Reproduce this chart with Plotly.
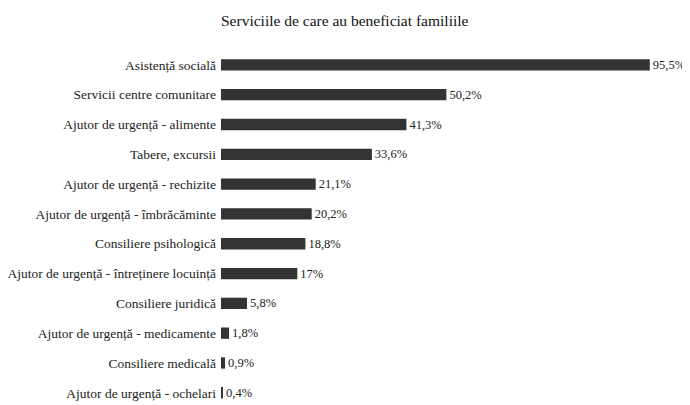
import plotly.graph_objects as go

categories = [
    "Asistență socială",
    "Servicii centre comunitare",
    "Ajutor de urgență - alimente",
    "Tabere, excursii",
    "Ajutor de urgență - rechizite",
    "Ajutor de urgență - îmbrăcăminte",
    "Consiliere psihologică",
    "Ajutor de urgență - întreținere locuință",
    "Consiliere juridică",
    "Ajutor de urgență - medicamente",
    "Consiliere medicală",
    "Ajutor de urgență - ochelari",
]
values = [95.5, 50.2, 41.3, 33.6, 21.1, 20.2, 18.8, 17, 5.8, 1.8, 0.9, 0.4]
value_labels = ["95,5%", "50,2%", "41,3%", "33,6%", "21,1%", "20,2%", "18,8%", "17%", "5,8%", "1,8%", "0,9%", "0,4%"]

SERIF = "Liberation Serif, Times New Roman, serif"

fig = go.Figure(go.Bar(
    x=values, y=list(range(len(categories))), orientation="h",
    marker=dict(color="#333333", line=dict(width=0)),
    width=0.38,
    text=value_labels, textposition="outside", cliponaxis=False,
    constraintext="none",
    textfont=dict(family=SERIF, size=12.5, color="#222222"),
))
fig.update_layout(
    width=690, height=405,
    margin=dict(l=213, r=28, t=42, b=8),
    paper_bgcolor="white", plot_bgcolor="white",
    title=dict(text="Serviciile de care au beneficiat familiile", x=0.488, xanchor="center",
               y=0.97, yanchor="middle",
               font=dict(family=SERIF, size=15.5, color="#111111")),
    font=dict(family=SERIF, size=13.5, color="#222222"),
    showlegend=False,
)
fig.update_xaxes(range=[0, 100], visible=False)
fig.update_yaxes(range=[11.41, -0.5], tickmode="array", tickvals=list(range(len(categories))),
                 ticktext=categories, showgrid=False, zeroline=False, showline=False,
                 ticks="", ticklabelstandoff=4, automargin=False)
fig.write_html("out.html")
